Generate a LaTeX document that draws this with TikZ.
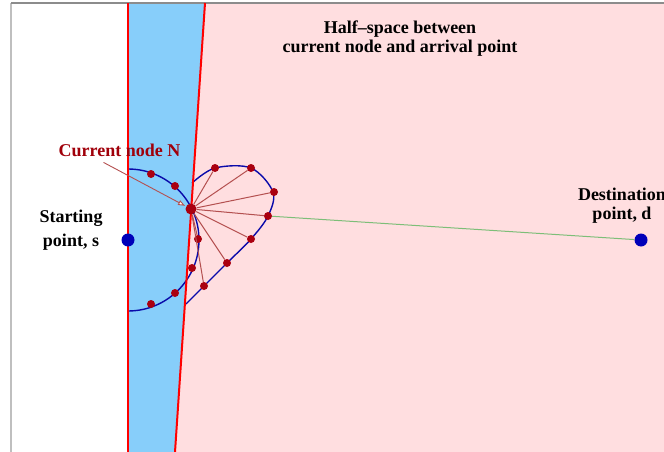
\documentclass[tikz,border=0pt]{standalone}
\usepackage{fontspec}
\setmainfont{Liberation Serif}
\usepackage{tikz}
\usetikzlibrary{arrows.meta,backgrounds}
\definecolor{halfpink}{RGB}{255,222,224}
\definecolor{bandblue}{RGB}{135,206,250}
\definecolor{dotred}{RGB}{170,0,16}
\definecolor{rayred}{RGB}{180,80,80}
\definecolor{curveblue}{RGB}{10,10,170}
\definecolor{endblue}{RGB}{0,0,185}
\definecolor{labelred}{RGB}{160,0,10}
\definecolor{pathgreen}{RGB}{125,190,120}
\newcommand{\figfont}{\fontsize{18}{19}\selectfont\bfseries}
\tikzset{
  wall/.style   ={draw=red, line width=2pt},
  curve/.style  ={draw=curveblue, line width=1.4pt},
  ray/.style    ={draw=rayred, line width=1pt},
  pt/.style     ={circle, fill=dotred, inner sep=0pt, minimum size=8pt},
  cur/.style    ={circle, fill=dotred, inner sep=0pt, minimum size=11pt},
  endpt/.style  ={circle, fill=endblue, inner sep=0pt, minimum size=13pt},
  lbl/.style    ={font=\figfont, align=center, inner sep=0pt},
  pointer/.style={draw=rayred, line width=0.9pt,
                  -{Triangle[fill=white, length=7pt, width=5pt]}, shorten >=1pt},
}

\begin{document}
\begin{tikzpicture}[x=1pt, y=-1pt]
\useasboundingbox (0,0) rectangle (664,452);
% --- the three regions ---------------------------------------------
\begin{scope}[on background layer]
  \fill[bandblue]  (128,3) -- (205,3) -- (175,452) -- (128,452) -- cycle;
  \fill[halfpink]  (205,3) -- (664,3) -- (664,452) -- (175,452) -- cycle;
\end{scope}
\draw[gray!50, line width=1.7pt] (11,452) -- (11,3);
\draw[gray!90, line width=1.3pt] (11,3) -- (664,3);

% --- candidate curves ------------------------------------------------
\draw[curve] (128,169) arc[start angle=-90, end angle=90, radius=71];
\draw[curve] plot[smooth, tension=0.55] coordinates {(192,183) (215,168)
  (251,168) (273,192) (268,216) (251,239) (227,263) (204,286) (186,304)};

% --- walls ----------------------------------------------------------
\coordinate (wt) at (205,3);
\coordinate (wb) at (175,452);
\draw[wall] (128,3) -- (128,452);
\draw[wall] (wt) -- (wb);

% --- nodes ----------------------------------------------------------
\node[endpt] (s) at (128,240) {};
\node[endpt] (d) at (641,240) {};
\node[cur]   (N) at (191,209) {};
\node[pt] (l1) at (151,174) {};
\node[pt] (l2) at (175,186) {};
\node[pt] (l3) at (198,239) {};
\node[pt] (l4) at (192,268) {};
\node[pt] (l5) at (175,293) {};
\node[pt] (l6) at (151,304) {};
\node[pt] (r1) at (215,168) {};
\node[pt] (r2) at (251,168) {};
\node[pt] (r3) at (274,192) {};
\node[pt] (r4) at (268,216) {};
\node[pt] (r5) at (251,239) {};
\node[pt] (r6) at (227,263) {};
\node[pt] (r7) at (204,286) {};

% --- rays and path --------------------------------------------------
\foreach \p in {r1,r2,r3,r4,r5,r6,r7,l3}
  \draw[ray] (N) -- (\p);
\draw[pathgreen, line width=1pt] (r4) -- (d);

% --- labels ---------------------------------------------------------
\node[lbl] (half) at (400,39) {Half--space between\\current node and arrival point};
\node[lbl, text=labelred, anchor=base] (curlbl) at (119.5,156) {Current node N};
\node[lbl] (start) at (71,230) {Starting\\[5pt]point, s};
\node[lbl] (dest) at (622,206) {Destination\\point, d};
\draw[pointer] ([xshift=-16pt, yshift=-6pt]curlbl.south) -- (N);
\end{tikzpicture}
\end{document}
